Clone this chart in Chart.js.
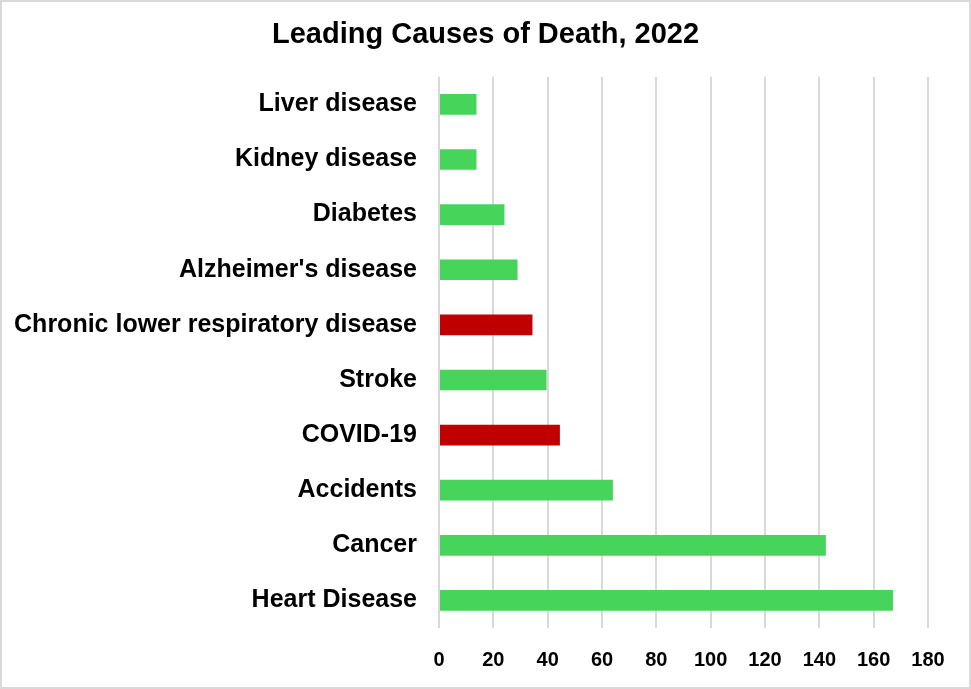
<!DOCTYPE html>
<html lang="en">
<head>
  <meta charset="UTF-8">
  <title>Leading Causes of Death, 2022</title>
  <script src="https://cdn.jsdelivr.net/npm/chart.js"></script>
  <style>
    body { margin: 0; background: #fff; }
    #frame {
      width: 971px;
      height: 689px;
      box-sizing: border-box;
      border: 2px solid #d9d9d9;
      background: #fff;
    }
    canvas { display: block; }
  </style>
</head>
<body>
  <div id="frame">
    <canvas id="deathChart" width="967" height="685"></canvas>
  </div>

  <script>
    // causes, top to bottom as in the picture
    const causes = [
      'Liver disease',
      'Kidney disease',
      'Diabetes',
      "Alzheimer's disease",
      'Chronic lower respiratory disease',
      'Stroke',
      'COVID-19',
      'Accidents',
      'Cancer',
      'Heart Disease'
    ];
    // deaths per 100,000
    const deathRates = [13.8, 13.8, 24.1, 28.9, 34.4, 39.6, 44.5, 64.0, 142.4, 167.1];
    // the ones drawn in red
    const highlighted = ['Chronic lower respiratory disease', 'COVID-19'];
    const xTicks = [0, 20, 40, 60, 80, 100, 120, 140, 160, 180];

    const fontFamily = '"Liberation Sans", Arial, sans-serif';
    const barColors = causes.map(c => highlighted.includes(c) ? '#c00000' : '#47d45a');

    // the right padding would push the title off centre, so stretch its box back
    const centerTitle = {
      id: 'centerTitle',
      afterLayout(chart) {
        if (chart.titleBlock) {
          chart.titleBlock.left = 0;
          chart.titleBlock.right = chart.width;
          chart.titleBlock.width = chart.width;
        }
      }
    };

    const ctx = document.getElementById('deathChart').getContext('2d');
    new Chart(ctx, {
      type: 'bar',
      data: {
        labels: causes,
        datasets: [{
          data: deathRates,
          backgroundColor: barColors,
          borderWidth: 0,
          barPercentage: 0.375,
          categoryPercentage: 1
        }]
      },
      options: {
        indexAxis: 'y',
        responsive: false,
        animation: false,
        devicePixelRatio: 1,
        layout: { padding: { left: 0, right: 41, top: 0, bottom: 0 } },
        plugins: {
          legend: { display: false },
          tooltip: { enabled: false },
          title: {
            display: true,
            text: 'Leading Causes of Death, 2022',
            color: '#000',
            font: { family: fontFamily, size: 29, weight: 'bold', lineHeight: 1.2 },
            padding: { top: 16, bottom: 24 }
          }
        },
        scales: {
          x: {
            min: 0,
            max: 180,
            afterBuildTicks: axis => { axis.ticks = xTicks.map(v => ({ value: v })); },
            afterFit: axis => { axis.height = 59; },
            grid: { color: '#d9d9d9', lineWidth: 2, drawTicks: false },
            border: { display: false },
            ticks: {
              color: '#000',
              padding: 20,
              maxRotation: 0,
              font: { family: fontFamily, size: 20, weight: 'bold', lineHeight: 1.2 }
            }
          },
          y: {
            grid: { display: false, drawTicks: false },
            border: { display: false },
            afterFit: axis => { axis.width = 437; },
            ticks: {
              color: '#000',
              padding: 22,
              font: { family: fontFamily, size: 25, weight: 'bold', lineHeight: 1.2 }
            }
          }
        }
      },
      plugins: [centerTitle]
    });
  </script>
</body>
</html>
